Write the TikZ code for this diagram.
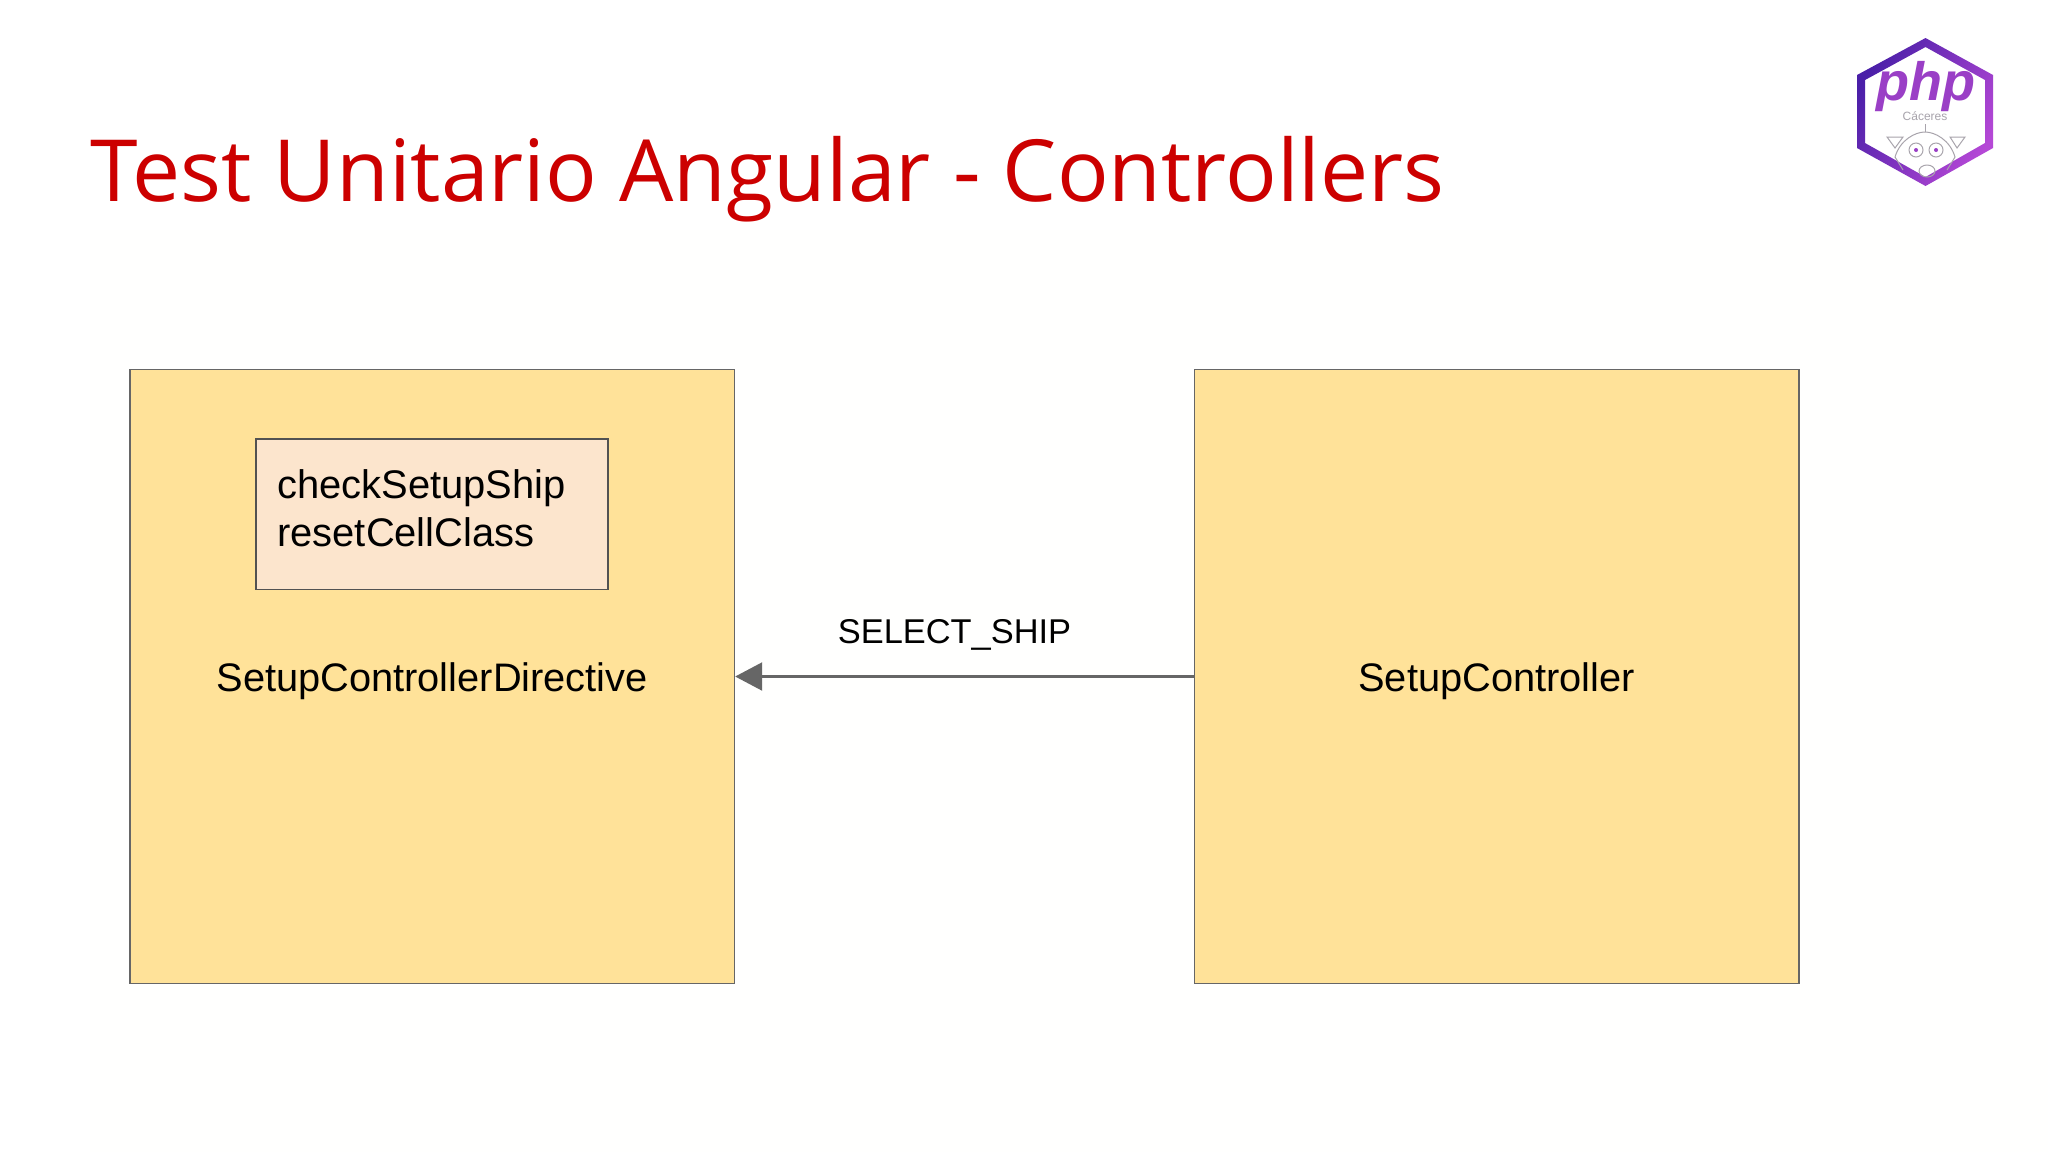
\documentclass[tikz,border=0pt]{standalone}
\usepackage{fontspec}
\setmainfont{Liberation Sans}
\newfontfamily\titlefont{Open Sans}
\usetikzlibrary{arrows.meta,shadings}
\definecolor{titlered}{HTML}{CC0000}
\definecolor{boxyellow}{HTML}{FFE299}
\definecolor{boxpeach}{HTML}{FCE5CD}
\definecolor{edgegrey}{HTML}{666666}
\definecolor{logodark}{HTML}{4A1FA8}
\definecolor{logolight}{HTML}{B548D6}
\definecolor{logotext}{HTML}{9A3FC6}
\definecolor{pigline}{HTML}{A8A4AC}
\definecolor{paper}{HTML}{FFFFFE}
\tikzset{
  bigbox/.style={draw=edgegrey,line width=0.8pt,fill=boxyellow,anchor=north west,inner sep=0pt,text depth=0pt,font=\fontsize{19.9}{23}\selectfont,text=black},
  innerbox/.style={draw=edgegrey!80!black,line width=0.8pt,fill=boxpeach,anchor=north west,inner sep=0pt},
  plain/.style={inner sep=0pt,text=black},
  pig/.style={draw=pigline,line width=0.5pt},
}
\begin{document}
\begin{tikzpicture}[x=0.5pt,y=-0.5pt]
\useasboundingbox (0,0) rectangle (2048,1152);
\fill[white] (0,0) rectangle (2048,1152);
\fill[paper] (90,230) rectangle (2048,1152);
% title
\node[plain,anchor=base west,text=titlered,font=\titlefont\fontsize{42.9}{48}\selectfont] (title) at (90.5,201.5) {Test Unitario Angular - Controllers};
% boxes
\node[bigbox,minimum width=302.2pt,minimum height=306.9pt] (left) at (129.2,368.8) {\raisebox{-0.4pt}{SetupControllerDirective}};
\node[bigbox,minimum width=302.2pt,minimum height=306.9pt] (right) at (1193.6,368.8) {\raisebox{-0.4pt}{SetupController}};
\node[innerbox,minimum width=176pt,minimum height=75.1pt] (inner) at (255,438.3) {};
\node[plain,anchor=base west,font=\fontsize{19.95}{23}\selectfont] (m1) at (276.9,498.5) {checkSetupShip};
\node[plain,anchor=base west,font=\fontsize{19.95}{23}\selectfont] (m2) at (276.9,546) {resetCellClass};
% connector
\draw[edgegrey,line width=1.1pt,-{Triangle[length=13.5pt,width=14pt]}] (right.west) -- (left.east);
\node[plain,font=\fontsize{17.2}{20}\selectfont,anchor=base] (lab) at (954.5,643) {SELECT\_SHIP};
% logo
\shade[even odd rule,left color=logodark,right color=logolight,shading angle=60]
  (1925.5,38) -- (1993,75) -- (1993,148) -- (1925.5,186) -- (1857,148) -- (1857,75) -- cycle
  (1925.5,47) -- (1985,80) -- (1985,143) -- (1925.5,177) -- (1865,143) -- (1865,80) -- cycle;
\node[plain,text=logotext,font=\bfseries\itshape\fontsize{27}{27}\selectfont,anchor=base] (php) at (1926,100) {php};
\node[plain,text=pigline,font=\fontsize{6}{7}\selectfont,anchor=base] (city) at (1925,120) {Cáceres};
\draw[pig] (1903,170) -- (1895,157) .. controls (1900,140) and (1915,132) .. (1925,132) .. controls (1935,132) and (1950,140) .. (1955,157) -- (1947,170);
\draw[pig] (1887,137) -- (1903,137) -- (1895,148) -- cycle;
\draw[pig] (1950,137) -- (1965,137) -- (1957,148) -- cycle;
\draw[pig] (1925,124) -- (1925,132);
\draw[pig] (1916,150) circle[radius=7];
\draw[pig] (1936,150) circle[radius=7];
\fill[logotext] (1916,150) circle[radius=2];
\fill[logotext] (1936,150) circle[radius=2];
\draw[pig] (1927,171) ellipse[x radius=8,y radius=6];
\end{tikzpicture}
\end{document}
